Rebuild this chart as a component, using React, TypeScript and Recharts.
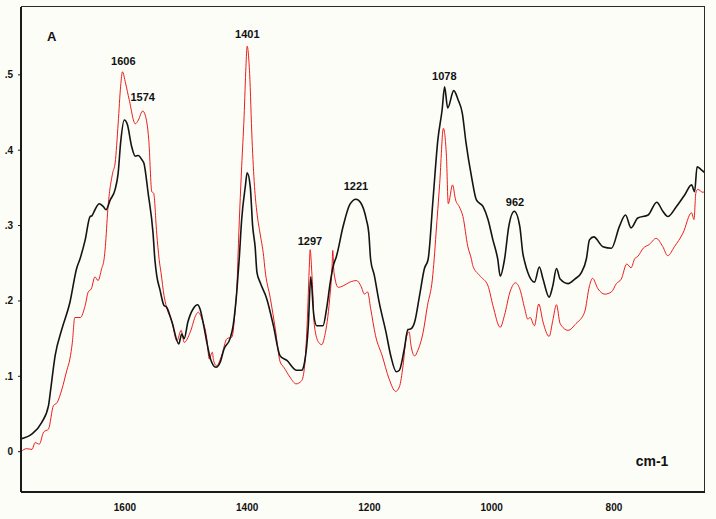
import { LineChart, Line, XAxis, YAxis, ReferenceDot } from "recharts";

// wavenumber (cm-1) / absorbance
const blackWavenumbers = [
  1770, 1752, 1736, 1725, 1722, 1714, 1703, 1690, 1679, 1673, 1665, 1657, 1654, 1649, 1642, 1635, 1631,
  1624, 1616, 1611, 1607, 1601, 1596, 1589, 1583, 1578, 1572, 1569, 1562, 1554, 1551, 1548, 1543, 1536,
  1532, 1523, 1512, 1507, 1503, 1497, 1488, 1481, 1477, 1471, 1465, 1460, 1451, 1444, 1438, 1428, 1423,
  1417, 1413, 1409, 1403, 1400, 1395, 1391, 1387, 1384, 1379, 1368, 1357, 1346, 1335, 1319, 1311, 1306,
  1300, 1296, 1291, 1286, 1276, 1270, 1264, 1259, 1254, 1243, 1232, 1222, 1214, 1205, 1201, 1198, 1192,
  1184, 1173, 1165, 1156, 1151, 1143, 1137, 1132, 1126, 1118, 1110, 1104, 1096, 1088, 1081, 1077, 1072,
  1062, 1055, 1048, 1042, 1033, 1025, 1014, 1006, 998, 990, 986, 979, 972, 963, 954, 949, 946, 941, 930,
  922, 916, 906, 900, 894, 888, 875, 864, 853, 845, 840, 833, 818, 804, 791, 781, 772, 761, 744, 730, 720,
  712, 698, 684, 673, 668, 664, 657, 651,
];
const blackAbsorbance = [
  0.017, 0.0235, 0.039, 0.061, 0.079, 0.128, 0.163, 0.198, 0.243, 0.257, 0.281, 0.312, 0.313, 0.321, 0.329,
  0.325, 0.321, 0.334, 0.348, 0.37, 0.41, 0.44, 0.434, 0.405, 0.392, 0.393, 0.387, 0.383, 0.343, 0.29,
  0.255, 0.234, 0.216, 0.194, 0.192, 0.172, 0.143, 0.156, 0.15, 0.172, 0.19, 0.195, 0.189, 0.167, 0.141,
  0.123, 0.112, 0.119, 0.136, 0.15, 0.167, 0.212, 0.256, 0.308, 0.352, 0.37, 0.352, 0.299, 0.272, 0.238,
  0.225, 0.203, 0.167, 0.127, 0.121, 0.108, 0.108, 0.119, 0.167, 0.232, 0.181, 0.167, 0.167, 0.19, 0.225,
  0.247, 0.259, 0.299, 0.328, 0.335, 0.33, 0.308, 0.29, 0.255, 0.234, 0.198, 0.159, 0.127, 0.106, 0.108,
  0.136, 0.162, 0.163, 0.172, 0.207, 0.243, 0.255, 0.334, 0.414, 0.454, 0.484, 0.456, 0.479, 0.467, 0.449,
  0.41, 0.365, 0.334, 0.325, 0.308, 0.281, 0.255, 0.233, 0.255, 0.299, 0.319, 0.299, 0.263, 0.252, 0.238,
  0.225, 0.245, 0.229, 0.205, 0.22, 0.243, 0.229, 0.223, 0.229, 0.238, 0.256, 0.281, 0.285, 0.272, 0.27,
  0.299, 0.314, 0.297, 0.31, 0.314, 0.331, 0.319, 0.312, 0.325, 0.341, 0.354, 0.345, 0.378, 0.374, 0.37,
];

const redWavenumbers = [
  1770, 1761, 1752, 1747, 1740, 1733, 1725, 1717, 1711, 1703, 1695, 1690, 1686, 1682, 1673, 1665, 1660,
  1655, 1649, 1644, 1638, 1634, 1632, 1628, 1620, 1616, 1611, 1607, 1604, 1599, 1593, 1583, 1578, 1571,
  1567, 1561, 1556, 1553, 1548, 1544, 1541, 1536, 1532, 1523, 1515, 1508, 1503, 1493, 1484, 1480, 1474,
  1466, 1462, 1457, 1455, 1450, 1442, 1433, 1425, 1420, 1416, 1415, 1409, 1405, 1402, 1400, 1396, 1392,
  1388, 1384, 1379, 1373, 1371, 1362, 1354, 1346, 1340, 1330, 1320, 1311, 1306, 1302, 1298, 1297, 1294,
  1290, 1283, 1278, 1273, 1265, 1261, 1260, 1258, 1251, 1243, 1232, 1221, 1214, 1208, 1203, 1198, 1190,
  1179, 1168, 1157, 1151, 1145, 1140, 1135, 1132, 1126, 1121, 1112, 1105, 1097, 1094, 1091, 1085, 1079,
  1074, 1071, 1064, 1059, 1053, 1047, 1039, 1033, 1031, 1020, 1006, 998, 986, 979, 970, 961, 954, 946, 941,
  937, 930, 923, 916, 906, 900, 894, 888, 875, 862, 848, 840, 835, 826, 815, 804, 796, 788, 779, 772, 766,
  761, 752, 742, 731, 720, 712, 701, 687, 673, 669, 666, 663, 654, 651,
];
const redAbsorbance = [
  0, 0.004, 0.003, 0.012, 0.01, 0.026, 0.03, 0.061, 0.065, 0.083, 0.108, 0.123, 0.145, 0.178, 0.178, 0.194,
  0.212, 0.216, 0.232, 0.227, 0.243, 0.256, 0.272, 0.321, 0.37, 0.383, 0.436, 0.485, 0.504, 0.489, 0.467,
  0.435, 0.44, 0.452, 0.447, 0.414, 0.345, 0.343, 0.29, 0.255, 0.238, 0.207, 0.192, 0.172, 0.147, 0.161,
  0.145, 0.159, 0.181, 0.185, 0.176, 0.15, 0.123, 0.132, 0.121, 0.114, 0.127, 0.15, 0.152, 0.185, 0.234,
  0.259, 0.378, 0.445, 0.511, 0.538, 0.502, 0.414, 0.352, 0.317, 0.29, 0.259, 0.243, 0.203, 0.163, 0.119,
  0.112, 0.099, 0.09, 0.094, 0.114, 0.167, 0.252, 0.268, 0.234, 0.167, 0.145, 0.142, 0.154, 0.203, 0.247,
  0.267, 0.238, 0.218, 0.22, 0.225, 0.227, 0.22, 0.209, 0.212, 0.19, 0.154, 0.127, 0.097, 0.08, 0.086,
  0.114, 0.15, 0.159, 0.141, 0.127, 0.134, 0.159, 0.194, 0.229, 0.256, 0.29, 0.356, 0.429, 0.392, 0.329,
  0.354, 0.334, 0.325, 0.312, 0.272, 0.255, 0.247, 0.234, 0.22, 0.194, 0.165, 0.181, 0.212, 0.224, 0.216,
  0.19, 0.176, 0.178, 0.167, 0.196, 0.172, 0.153, 0.174, 0.195, 0.17, 0.161, 0.17, 0.185, 0.22, 0.23,
  0.216, 0.209, 0.212, 0.223, 0.229, 0.249, 0.244, 0.256, 0.259, 0.27, 0.275, 0.283, 0.272, 0.26, 0.272,
  0.29, 0.317, 0.308, 0.343, 0.348, 0.344, 0.347,
];

const xTicks = [1600, 1400, 1200, 1000, 800];
const yTicks = [0, 0.1, 0.2, 0.3, 0.4, 0.5];

// peak annotations: [text, wavenumber, absorbance where the label sits]
const peakLabels: [string, number, number][] = [
  ["1606", 1602.6, 0.5186],
  ["1574", 1570.9, 0.47],
  ["1401", 1399.8, 0.554],
  ["1297", 1297.2, 0.28],
  ["1221", 1222, 0.352],
  ["1078", 1077.5, 0.4987],
  ["962", 961.8, 0.3318],
];

const X_DOMAIN: [number, number] = [651, 1770];
const Y_DOMAIN: [number, number] = [-0.0535, 0.59];
const FONT = "'Liberation Sans', Arial, sans-serif";

const W = 716;
const H = 519;
const M = { top: 7, right: 11, bottom: 0, left: 0 };
const Y_AXIS_W = 21;
const X_AXIS_H = 27;

const blackData = blackWavenumbers.map((wn, i) => ({ wn, a: blackAbsorbance[i] }));
const redData = redWavenumbers.map((wn, i) => ({ wn, a: redAbsorbance[i] }));

function fmtY(v: number) {
  if (v === 0) return "0";
  return String(Number(v.toFixed(1))).replace(/^0/, "");
}

function textShape(text: string, size: number) {
  return (props: any) => (
    <text
      x={props.cx}
      y={props.cy}
      textAnchor="middle"
      dominantBaseline="central"
      fontFamily={FONT}
      fontWeight="bold"
      fontSize={size}
      fill="#111"
    >
      {text}
    </text>
  );
}

const tickStyle = { fontSize: 10, fontWeight: "bold", fill: "#111", fontFamily: FONT };

export default function App() {
  return (
    <div
      style={{
        position: "absolute",
        left: 0,
        top: 0,
        width: W,
        height: H,
        background: "#fdfdf8",
      }}
    >
      <LineChart width={W} height={H} margin={M}>
        <XAxis
          type="number"
          dataKey="wn"
          domain={X_DOMAIN}
          reversed
          allowDataOverflow
          ticks={xTicks}
          height={X_AXIS_H}
          tickLine={false}
          tickMargin={6}
          axisLine={{ stroke: "#1a1a1a", strokeWidth: 2 }}
          tick={tickStyle}
        />
        <YAxis
          type="number"
          domain={Y_DOMAIN}
          allowDataOverflow
          ticks={yTicks}
          width={Y_AXIS_W}
          tickSize={3}
          tickMargin={5}
          tickFormatter={fmtY}
          axisLine={{ stroke: "#1a1a1a", strokeWidth: 2 }}
          tickLine={{ stroke: "#1a1a1a" }}
          tick={tickStyle}
        />
        <Line
          data={redData}
          dataKey="a"
          type="monotone"
          stroke="#ec1c1c"
          strokeWidth={1}
          dot={false}
          isAnimationActive={false}
        />
        <Line
          data={blackData}
          dataKey="a"
          type="monotone"
          stroke="#141414"
          strokeWidth={1.6}
          dot={false}
          isAnimationActive={false}
        />
        {peakLabels.map(([t, x, y]) => (
          <ReferenceDot key={t} x={x} y={y} r={0} shape={textShape(t, 11)} />
        ))}
        <ReferenceDot x={1719.8} y={0.551} r={0} shape={textShape("A", 13)} />
        <ReferenceDot x={737.7} y={-0.012} r={0} shape={textShape("cm-1", 14)} />
      </LineChart>
      {/* top and right edges of the plot frame */}
      <div
        style={{
          position: "absolute",
          left: M.left + Y_AXIS_W,
          top: M.top - 1,
          width: W - M.left - M.right - Y_AXIS_W,
          height: H - M.top - M.bottom - X_AXIS_H,
          borderTop: "1.5px solid #2a2a2a",
          borderRight: "1.5px solid #2a2a2a",
          boxSizing: "border-box",
          pointerEvents: "none",
        }}
      />
    </div>
  );
}
